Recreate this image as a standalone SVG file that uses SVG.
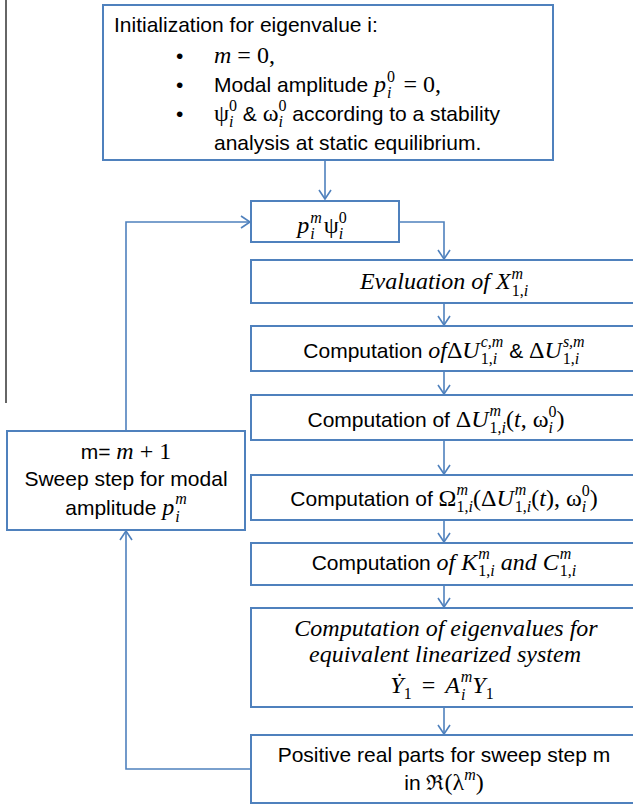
<svg xmlns="http://www.w3.org/2000/svg" width="633" height="805" viewBox="0 0 633 805">
<style>
.box{fill:#fff;stroke:#4F81BD;stroke-width:2}
.con{fill:none;stroke:#4F81BD;stroke-width:1.6}
text{fill:#000}
.c{text-anchor:middle}
.t{font-family:"Liberation Sans",Arial,sans-serif;font-size:21px;font-style:normal}
.mi{font-family:"Liberation Serif","DejaVu Serif",serif;font-size:24px;font-style:italic}
.mr{font-family:"Liberation Serif","DejaVu Serif",serif;font-size:24px;font-style:normal}
.s{font-size:16px}
.dj{font-family:"DejaVu Serif",serif;font-size:21px}
</style>
<defs>
<marker id="arr" markerUnits="userSpaceOnUse" markerWidth="14" markerHeight="14" refX="10" refY="7" orient="auto">
<path d="M1,1 L10,7 L1,13" fill="none" stroke="#4F81BD" stroke-width="1.6"/>
</marker>
</defs>
<line x1="6" y1="0" x2="6" y2="403" stroke="#333" stroke-width="1.5"/>

<g id="connectors">
<path class="con" d="M325,160 V199" marker-end="url(#arr)"/>
<path class="con" d="M399,222 H444 V259" marker-end="url(#arr)"/>
<path class="con" d="M444,303 V325" marker-end="url(#arr)"/>
<path class="con" d="M444,371 V394" marker-end="url(#arr)"/>
<path class="con" d="M444,440 V474" marker-end="url(#arr)"/>
<path class="con" d="M444,520 V542" marker-end="url(#arr)"/>
<path class="con" d="M444,585 V607" marker-end="url(#arr)"/>
<path class="con" d="M444,707 V734" marker-end="url(#arr)"/>
<path class="con" d="M251,769 H126 V531" marker-end="url(#arr)"/>
<path class="con" d="M126,431 V222 H250" marker-end="url(#arr)"/>
</g>

<g id="init">
<rect class="box" x="103" y="5" width="450" height="155"/>
<text class="t" x="114" y="32">Initialization for eigenvalue i:</text>
<text class="t" x="176" y="63">•</text>
<text class="t" x="176" y="92">•</text>
<text class="t" x="176" y="121">•</text>
<text x="214" y="63"><tspan class="mi">m</tspan><tspan class="mr"> = 0,</tspan></text>
<text x="214" y="92"><tspan class="t">Modal amplitude </tspan><tspan class="mi">p</tspan><tspan class="mr s" dx="1" dy="-10">0</tspan><tspan class="mi s" dx="-8" dy="16">i</tspan><tspan class="mr" dx="12" dy="-6">= 0,</tspan></text>
<text x="214" y="121"><tspan class="mr">ψ</tspan><tspan class="mr s" dy="-10">0</tspan><tspan class="mi s" dx="-8" dy="16">i</tspan><tspan class="t" dx="3.5" dy="-6"> &amp; </tspan><tspan class="mr">ω</tspan><tspan class="mr s" dy="-10">0</tspan><tspan class="mi s" dx="-8" dy="16">i</tspan><tspan class="t" dx="3.5" dy="-6"> according to a stability</tspan></text>
<text class="t" x="214" y="150">analysis at static equilibrium.</text>
</g>

<g id="amp">
<rect class="box" x="251" y="201" width="148" height="41"/>
<text class="c" x="322" y="233"><tspan class="mi">p</tspan><tspan class="mi s" dx="1" dy="-10">m</tspan><tspan class="mi s" dx="-11.5" dy="16">i</tspan><tspan class="mr" dx="9" dy="-6">ψ</tspan><tspan class="mr s" dy="-10">0</tspan><tspan class="mi s" dx="-8" dy="16">i</tspan><tspan class="mr s" dx="3.5" dy="-6"></tspan></text>
</g>

<g id="eval">
<rect class="box" x="251" y="260" width="392" height="43"/>
<text class="c" x="444" y="289"><tspan class="mi">Evaluation of X</tspan><tspan class="mi s" dx="1" dy="-10">m</tspan><tspan class="mr s" dx="-11.5" dy="17">1,<tspan font-style="italic">i</tspan></tspan></text>
</g>

<g id="dUcs">
<rect class="box" x="251" y="326" width="392" height="45"/>
<text class="c" x="444" y="358"><tspan class="t">Computation </tspan><tspan class="mi">of</tspan><tspan class="mr">Δ</tspan><tspan class="mi">U</tspan><tspan class="mi s" dx="1" dy="-11">c,m</tspan><tspan class="mr s" dx="-22.6" dy="17">1,<tspan font-style="italic">i</tspan></tspan><tspan class="t" dx="6.2" dy="-6"> &amp; </tspan><tspan class="mr">Δ</tspan><tspan class="mi">U</tspan><tspan class="mi s" dx="1" dy="-11">s,m</tspan><tspan class="mr s" dx="-21.8" dy="17">1,<tspan font-style="italic">i</tspan></tspan><tspan class="mr s" dx="5.4" dy="-6"></tspan></text>
</g>

<g id="dUt">
<rect class="box" x="251" y="395" width="392" height="45"/>
<text class="c" x="436" y="427"><tspan class="t">Computation of </tspan><tspan class="mr">Δ</tspan><tspan class="mi">U</tspan><tspan class="mi s" dx="1" dy="-11">m</tspan><tspan class="mr s" dx="-11.5" dy="17">1,<tspan font-style="italic">i</tspan></tspan><tspan class="mr" dy="-6">(</tspan><tspan class="mi">t</tspan><tspan class="mr">, ω</tspan><tspan class="mr s" dy="-10">0</tspan><tspan class="mi s" dx="-8" dy="16">i</tspan><tspan class="mr" dx="3.5" dy="-6">)</tspan></text>
</g>

<g id="omega">
<rect class="box" x="251" y="475" width="392" height="45"/>
<text class="c" x="444" y="506"><tspan class="t">Computation of </tspan><tspan class="mr">Ω</tspan><tspan class="mi s" dy="-11">m</tspan><tspan class="mr s" dx="-11.5" dy="17">1,<tspan font-style="italic">i</tspan></tspan><tspan class="mr" dy="-6">(Δ</tspan><tspan class="mi">U</tspan><tspan class="mi s" dx="1" dy="-11">m</tspan><tspan class="mr s" dx="-11.5" dy="17">1,<tspan font-style="italic">i</tspan></tspan><tspan class="mr" dy="-6">(</tspan><tspan class="mi">t</tspan><tspan class="mr">), ω</tspan><tspan class="mr s" dy="-10">0</tspan><tspan class="mi s" dx="-8" dy="16">i</tspan><tspan class="mr" dx="3.5" dy="-6">)</tspan></text>
</g>

<g id="kc">
<rect class="box" x="251" y="543" width="392" height="42"/>
<text class="c" x="444" y="570"><tspan class="t">Computation </tspan><tspan class="mi">of K</tspan><tspan class="mi s" dx="1" dy="-11">m</tspan><tspan class="mr s" dx="-11.5" dy="17">1,<tspan font-style="italic">i</tspan></tspan><tspan class="mi" dy="-6"> and C</tspan><tspan class="mi s" dx="1" dy="-11">m</tspan><tspan class="mr s" dx="-11.5" dy="17">1,<tspan font-style="italic">i</tspan></tspan></text>
</g>

<g id="eig">
<rect class="box" x="251" y="608" width="392" height="99"/>
<text class="mi c" x="446" y="636">Computation of eigenvalues for</text>
<text class="mi c" x="445" y="662">equivalent linearized system</text>
<text class="c" x="442" y="693"><tspan class="mi">Ẏ</tspan><tspan class="mr s" dy="6">1</tspan><tspan class="mr" dx="4" dy="-6"> = </tspan><tspan class="mi" dx="4">A</tspan><tspan class="mi s" dx="1" dy="-11">m</tspan><tspan class="mi s" dx="-11.5" dy="18">i</tspan><tspan class="mi" dx="7" dy="-7">Y</tspan><tspan class="mr s" dy="6">1</tspan></text>
</g>

<g id="pos">
<rect class="box" x="251" y="735" width="392" height="68"/>
<text class="t c" x="444" y="762">Positive real parts for sweep step m</text>
<text class="c" x="444" y="790"><tspan class="t">in </tspan><tspan class="dj">ℜ</tspan><tspan class="mr">(λ</tspan><tspan class="mi s" dy="-10">m</tspan><tspan class="mr" dy="10">)</tspan></text>
</g>

<g id="sweep">
<rect class="box" x="7" y="431" width="238" height="99"/>
<text class="c" x="126" y="459"><tspan class="t">m= </tspan><tspan class="mi">m</tspan><tspan class="mr"> + 1</tspan></text>
<text class="t c" x="126" y="486">Sweep step for modal</text>
<text class="c" x="126" y="515"><tspan class="t">amplitude </tspan><tspan class="mi">p</tspan><tspan class="mi s" dx="1" dy="-11">m</tspan><tspan class="mi s" dx="-11.5" dy="18">i</tspan><tspan class="mi s" dx="7" dy="-7"></tspan></text>
</g>
</svg>
